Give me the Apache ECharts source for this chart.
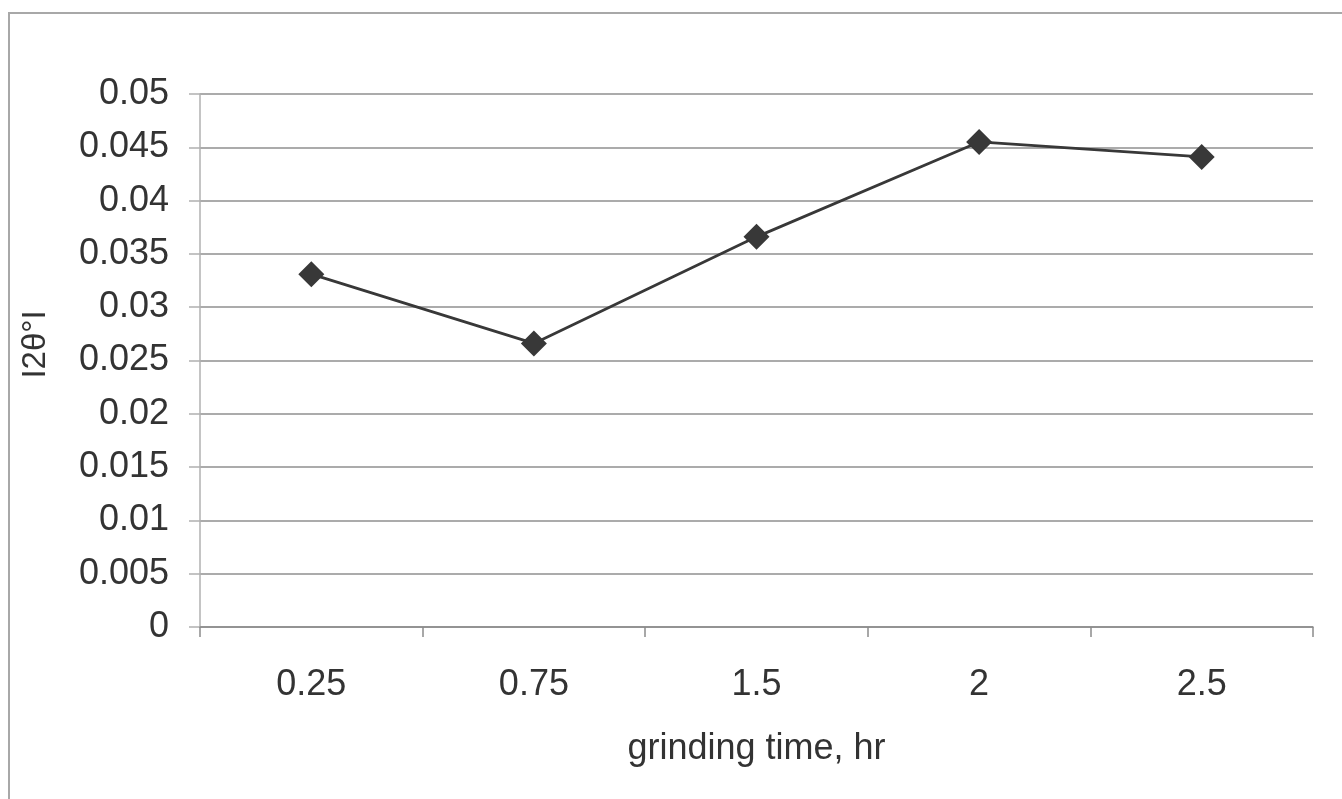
<!DOCTYPE html>
<html>
<head>
<meta charset="utf-8">
<script src="https://cdn.jsdelivr.net/npm/echarts@6/dist/echarts.min.js"></script>
<style>
  html, body { margin: 0; padding: 0; background: #fff; }
  .frame {
    position: absolute; left: 8px; top: 12px; right: 0; bottom: 0;
    border-left: 2px solid #a8a8a8; border-top: 2px solid #a8a8a8;
  }
  #ec { position: absolute; left: 0; top: 0; width: 1342px; height: 799px; }
</style>
</head>
<body>
<div class="frame"></div>
<div id="ec"></div>
<script>
  // grinding time categories and measured |2θ| values
  const categories = ['0.25', '0.75', '1.5', '2', '2.5']
  const values = [0.0331, 0.0266, 0.0366, 0.0455, 0.0441]
  const yMin = 0
  const yMax = 0.05
  const yStep = 0.005

  const textColor = '#333'
  const font = 'Liberation Sans, Arial, sans-serif'

  const ec = echarts.init(document.getElementById('ec'))
  ec.setOption({
    animation: false,
    grid: { left: 200, right: 29, top: 94, bottom: 172, containLabel: false },
    xAxis: {
      type: 'category',
      data: categories,
      boundaryGap: true,
      name: 'grinding time, hr',
      nameLocation: 'middle',
      nameGap: 104,
      nameTextStyle: { color: textColor, fontSize: 36, fontFamily: font },
      axisLine: { lineStyle: { color: '#8c8c8c', width: 1.5 } },
      axisTick: { show: true, length: 10, lineStyle: { color: '#8c8c8c', width: 1.5 } },
      axisLabel: { color: textColor, fontSize: 36, fontFamily: font, margin: 40 },
      splitLine: { show: false }
    },
    yAxis: {
      type: 'value',
      min: yMin,
      max: yMax,
      interval: yStep,
      name: 'I2θ°I',
      nameLocation: 'middle',
      nameGap: 148,
      nameTextStyle: { color: textColor, fontSize: 33, fontFamily: font, padding: [0, 0, 0, 32] },
      axisLine: { show: true, lineStyle: { color: '#b0b0b0', width: 1.5 } },
      axisTick: { show: true, length: 11, lineStyle: { color: '#b0b0b0', width: 1.5 } },
      axisLabel: { color: textColor, fontSize: 36, fontFamily: font, margin: 31 },
      splitLine: { lineStyle: { color: '#8f8f8f', width: 1.5 } }
    },
    series: [{
      type: 'line',
      data: values,
      symbol: 'diamond',
      symbolSize: 26,
      lineStyle: { color: '#383838', width: 2.8 },
      itemStyle: { color: '#383838' }
    }]
  })
</script>
</body>
</html>
